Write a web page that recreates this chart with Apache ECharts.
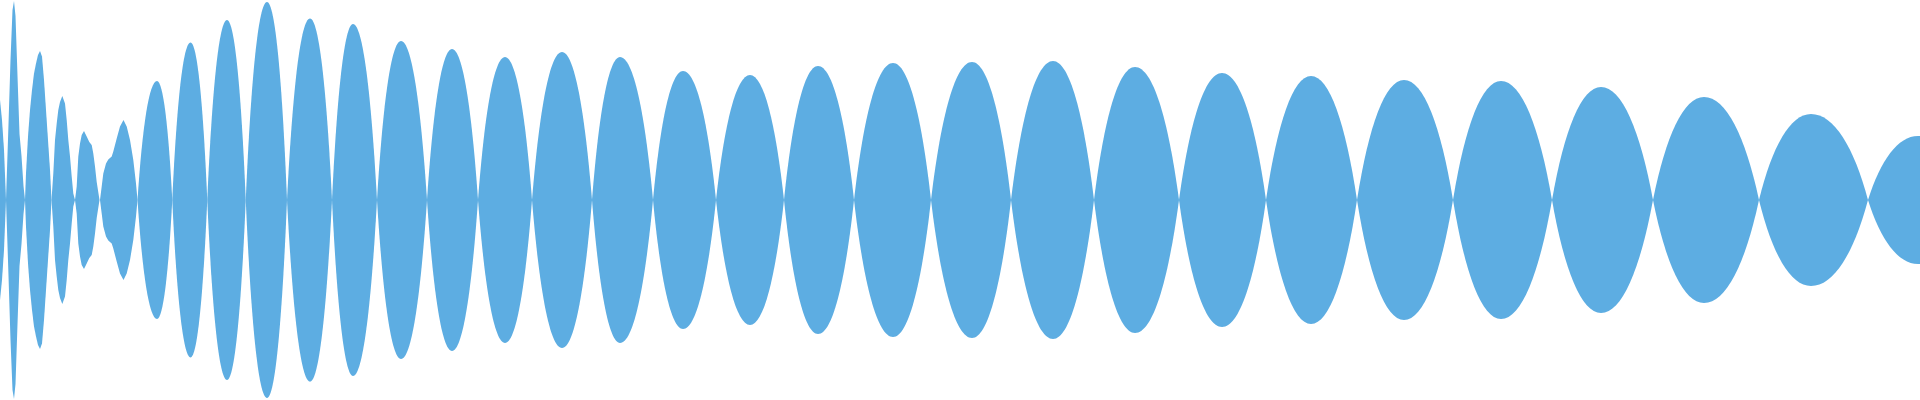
<!DOCTYPE html>
<html>
<head>
<meta charset="utf-8">
<script src="https://cdn.jsdelivr.net/npm/echarts@6/dist/echarts.min.js"></script>
<style>
html,body{margin:0;padding:0;background:#ffffff;}
#chart{width:1920px;height:400px;}
</style>
</head>
<body>
<div id="chart"></div>
<script>
// Irregular opening lobes: sample positions and upper envelope (null = break between lobes)
const headX = [
  0, 2, 4, 6, null,
  6, 8.5, 10.5, 12.5, 14, 15.5, 17.5, 19.5, 21.5, 23.5, 25, null,
  25, 26, 28, 30, 32, 34, 36, 38, 40, 42, 44, 46, 48, 50, 51.5, null,
  51.5, 53.3, 55, 56.7, 58.3, 60, 62.3, 65, 66.7, 68.3, 70, 71.7, 73.3, 75, null,
  75, 76.7, 78.3, 80, 81.7, 84, 86.7, 89.3, 91.7, 93.3, 95, 96.7, 99.5, null,
  100, 101.7, 103.3, 106, 108.3, 111.7, 113.3, 116.7, 120, 123.5, 126.7, 130, 133.3, 136, 137.5
];
const headY = [
  0.5, 0.4, 0.25, 0, null,
  0, 0.38, 0.7, 0.95, 0.995, 0.92, 0.62, 0.33, 0.22, 0.07, 0, null,
  0, 0.133, 0.317, 0.45, 0.55, 0.633, 0.683, 0.725, 0.745, 0.717, 0.6, 0.45, 0.3, 0.15, 0, null,
  0, 0.133, 0.3, 0.383, 0.45, 0.49, 0.52, 0.483, 0.4, 0.3, 0.217, 0.117, 0.033, 0, null,
  0, 0.067, 0.217, 0.283, 0.325, 0.345, 0.317, 0.29, 0.275, 0.233, 0.167, 0.09, 0, null,
  0, 0.067, 0.133, 0.183, 0.203, 0.217, 0.242, 0.308, 0.367, 0.4, 0.367, 0.3, 0.2, 0.083, 0
];
// Regular lobes: zero crossings, peak positions and peak amplitudes
const crossX = [137.5, 172.25, 207.25, 245.75, 287, 332, 377, 427, 478, 532, 592, 653, 716,
  784, 854, 931, 1011, 1094, 1179, 1266, 1357, 1453, 1552, 1653, 1759, 1868, 1968];
const peakX = [157, 190.5, 227, 267, 310, 353, 401, 452, 505, 562, 620, 683, 750,
  818, 893, 972, 1053, 1135, 1222, 1311, 1404, 1501, 1601, 1704, 1811, 1918];
const peakY = [0.595, 0.787, 0.9, 0.99, 0.908, 0.88, 0.795, 0.755, 0.715, 0.74, 0.715, 0.645, 0.625,
  0.67, 0.685, 0.69, 0.695, 0.665, 0.635, 0.62, 0.6, 0.595, 0.565, 0.515, 0.43, 0.32];

const fillColor = '#5dade2';

// split head arrays into lobes
const headLobes = [];
let cur = {x: [], y: []};
headX.forEach((x, i) => {
  if (x === null) { headLobes.push(cur); cur = {x: [], y: []}; }
  else { cur.x.push(x); cur.y.push(headY[i]); }
});
headLobes.push(cur);

const headData = headLobes.map((l, i) => [l.x[0], 0, i]);
const lobeData = peakX.map((px, i) => [crossX[i], px, crossX[i + 1], peakY[i]]);

function renderHead(params, api) {
  const lobe = headLobes[api.value(2)];
  const pts = [];
  for (let k = 0; k < lobe.x.length; k++) pts.push(api.coord([lobe.x[k], lobe.y[k]]));
  for (let k = lobe.x.length - 1; k >= 0; k--) pts.push(api.coord([lobe.x[k], -lobe.y[k]]));
  return {type: 'polygon', shape: {points: pts}, style: {fill: fillColor}};
}

// Bezier handle proportions for the rounded lobe outline
const HX = 0.25, HY = 0.62, HT = 0.4;

function renderLobe(params, api) {
  const c0 = api.value(0), px = api.value(1), c1 = api.value(2), a = api.value(3);
  const s = api.coord([c0, 0]);
  const t = api.coord([px, a]);
  const e = api.coord([c1, 0]);
  const b = api.coord([px, -a]);
  const dl = t[0] - s[0], dr = e[0] - t[0];
  const hu = t[1] - s[1];
  const hd = b[1] - s[1];
  const f = v => v.toFixed(2);
  const d = [
    'M', f(s[0]), f(s[1]),
    'C', f(s[0] + HX * dl), f(s[1] + HY * hu), f(t[0] - HT * dl), f(t[1]), f(t[0]), f(t[1]),
    'C', f(t[0] + HT * dr), f(t[1]), f(e[0] - HX * dr), f(e[1] + HY * hu), f(e[0]), f(e[1]),
    'C', f(e[0] - HX * dr), f(e[1] + HY * hd), f(t[0] + HT * dr), f(b[1]), f(b[0]), f(b[1]),
    'C', f(t[0] - HT * dl), f(b[1]), f(s[0] + HX * dl), f(s[1] + HY * hd), f(s[0]), f(s[1]),
    'Z'
  ].join(' ');
  return {type: 'path', shape: {pathData: d}, style: {fill: fillColor}};
}

const chart = echarts.init(document.getElementById('chart'), null, {renderer: 'canvas'});
chart.setOption({
  animation: false,
  grid: {left: 0, right: 0, top: 0, bottom: 0, containLabel: false},
  xAxis: {type: 'value', min: 0, max: 1920, show: false},
  yAxis: {type: 'value', min: -1, max: 1, show: false},
  series: [
    {
      type: 'custom', name: 'head', data: headData, clip: true, silent: true,
      encode: {x: 0, y: 1}, renderItem: renderHead
    },
    {
      type: 'custom', name: 'lobes', data: lobeData, clip: true, silent: true,
      encode: {x: [0, 1, 2], y: 3}, renderItem: renderLobe
    }
  ]
});
</script>
</body>
</html>
